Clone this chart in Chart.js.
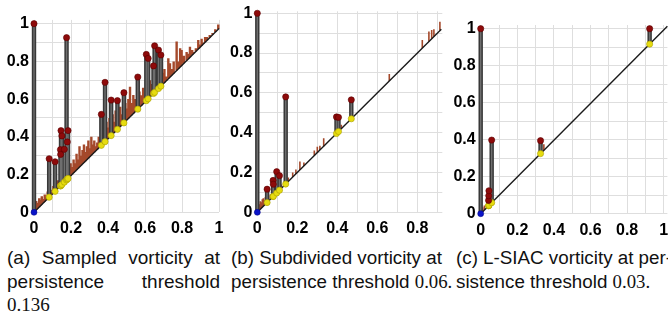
<!DOCTYPE html>
<html>
<head>
<meta charset="utf-8">
<script src="https://cdn.jsdelivr.net/npm/chart.js@4.4.1/dist/chart.umd.min.js"></script>
<style>
  body { margin: 0; width: 668px; height: 314px; overflow: hidden; background: #fff; position: relative;
         font-family: "Liberation Sans", Arial, sans-serif; }
  canvas { position: absolute; top: 0; }
  .cap { position: absolute; font-size: 19px; line-height: 23.5px; color: #111; white-space: nowrap; }
  .num { font-family: "Liberation Serif", "Times New Roman", serif; }
  .just { text-align: justify; text-align-last: justify; white-space: normal; }
</style>
</head>
<body>
<canvas id="chartA" width="225" height="240" style="left:0px"></canvas>
<canvas id="chartB" width="222" height="240" style="left:228px"></canvas>
<canvas id="chartC" width="220" height="240" style="left:452px"></canvas>

<div class="cap just" style="left:7px; top:246px; width:213px">(a) Sampled vorticity at</div>
<div class="cap just" style="left:7px; top:269.5px; width:213px">persistence threshold</div>
<div class="cap" style="left:7px; top:293px"><span class="num">0.136</span></div>

<div class="cap" style="left:231px; top:246px; font-size:18.8px">(b) Subdivided vorticity at<br>persistence threshold <span class="num">0.06.</span></div>
<div class="cap" style="left:456px; top:246px; font-size:18.8px">(c) L-SIAC vorticity at per-<br>sistence threshold <span class="num">0.03.</span></div>

<script>
"use strict";

// tick values (grid every 0.1, label every 0.2)
const ticksTo1 = [0, 0.1, 0.2, 0.3, 0.4, 0.5, 0.6, 0.7, 0.8, 0.9, 1];
const ticksTo09 = [0, 0.1, 0.2, 0.3, 0.4, 0.5, 0.6, 0.7, 0.8, 0.9];

// (a) sampled vorticity : birth / death pairs
const birthsA = [0, 0.082, 0.114, 0.143, 0.144, 0.146, 0.151, 0.164, 0.176, 0.180, 0.184,
                 0.364, 0.384, 0.417, 0.451, 0.486, 0.561, 0.607, 0.617, 0.646, 0.652, 0.673, 0.686];
const deathsA = [1.0, 0.284, 0.268, 0.332, 0.307, 0.433, 0.405, 0.334, 0.926, 0.373, 0.433,
                 0.519, 0.689, 0.595, 0.592, 0.634, 0.717, 0.837, 0.816, 0.776, 0.883, 0.860, 0.834];
const diagEndA = [1, 0.975];
// small brown features below threshold
const spikeXA = [0.005, 0.012, 0.02, 0.028, 0.035, 0.042, 0.05, 0.058, 0.066, 0.074, 0.09, 0.098, 0.105,
                 0.122, 0.13, 0.137, 0.155, 0.17, 0.19, 0.198, 0.206, 0.214, 0.222, 0.23, 0.238, 0.246,
                 0.254, 0.262, 0.27, 0.278, 0.286, 0.294, 0.302, 0.31, 0.318, 0.326, 0.334, 0.342, 0.35,
                 0.372, 0.392, 0.4, 0.408, 0.425, 0.433, 0.441, 0.458, 0.466, 0.474, 0.494, 0.502, 0.51,
                 0.519, 0.528, 0.537, 0.546, 0.57, 0.58, 0.59, 0.626, 0.636, 0.66, 0.695, 0.705, 0.715,
                 0.726, 0.735, 0.745, 0.755, 0.771, 0.78, 0.79, 0.798, 0.81, 0.825, 0.835, 0.843, 0.855,
                 0.865, 0.875, 0.888, 0.897, 0.906, 0.915, 0.925, 0.935, 0.95, 0.965, 0.98, 0.996];
const spikeTopA = [0.04, 0.06, 0.05, 0.075, 0.065, 0.085, 0.07, 0.095, 0.08, 0.11, 0.12, 0.105, 0.14,
                   0.15, 0.17, 0.16, 0.19, 0.21, 0.23, 0.26, 0.24, 0.28, 0.26, 0.31, 0.28, 0.35,
                   0.3, 0.33, 0.36, 0.32, 0.35, 0.38, 0.34, 0.4, 0.36, 0.38, 0.35, 0.37, 0.4,
                   0.44, 0.48, 0.45, 0.5, 0.52, 0.48, 0.54, 0.5, 0.56, 0.52, 0.58, 0.55, 0.6,
                   0.666, 0.58, 0.622, 0.6, 0.64, 0.62, 0.66, 0.7, 0.68, 0.72, 0.74, 0.76, 0.72,
                   0.817, 0.79, 0.76, 0.8, 0.905, 0.8, 0.87, 0.86, 0.83, 0.85, 0.84, 0.878, 0.86,
                   0.85, 0.87, 0.913, 0.89, 0.92, 0.9, 0.93, 0.93, 0.94, 0.95, 0.97, 0.995];

// (b) subdivided vorticity
const birthsB = [0, 0.049, 0.079, 0.080, 0.097, 0.111, 0.142, 0.396, 0.406, 0.470];
const deathsB = [1.0, 0.116, 0.160, 0.141, 0.204, 0.184, 0.580, 0.479, 0.477, 0.565];
const diagEndB = [0.92, 0.92];
const spikeXB = [0.01, 0.015, 0.02, 0.025, 0.03, 0.035, 0.04, 0.055, 0.065, 0.09, 0.12, 0.155, 0.177,
                 0.193, 0.213, 0.233, 0.285, 0.3, 0.313, 0.332, 0.42, 0.66, 0.825, 0.858, 0.872, 0.883, 0.913];
const spikeTopB = [0.04, 0.055, 0.05, 0.065, 0.07, 0.06, 0.075, 0.08, 0.09, 0.12, 0.14, 0.175, 0.2,
                   0.215, 0.255, 0.25, 0.31, 0.33, 0.335, 0.372, 0.44, 0.695, 0.866, 0.908, 0.916, 0.92, 0.958];

// (c) L-SIAC vorticity
const birthsC = [0, 0.043, 0.044, 0.045, 0.060, 0.327, 0.923];
const deathsC = [1.0, 0.072, 0.097, 0.124, 0.398, 0.395, 1.0];
const diagEndC = [1.02, 1.013];
const spikeXC = [0.01, 0.02, 0.345];
const spikeTopC = [0.035, 0.045, 0.375];

function segments(xs, lows, highs) {
  const pts = [];
  xs.forEach((x, i) => {
    pts.push({ x: x, y: lows[i] }, { x: x, y: highs[i] }, { x: x, y: null });
  });
  return pts;
}

function tickLabel(v) {
  if (Math.round(v * 10) % 2 !== 0) return '';
  if (v === 0) return '0';
  if (v === 1) return '1';
  return v.toFixed(1);
}

function makePanel(canvasId, p) {
  const slope = p.diag[1] / p.diag[0];
  const onDiag = x => x * slope;
  const births = p.births.slice(1);
  const deaths = p.deaths.slice(1);
  const sticks = segments(p.births, p.births.map(onDiag), p.deaths);
  const spikes = segments(p.spikeX, p.spikeX.map(onDiag), p.spikeTop);
  const canvas = document.getElementById(canvasId);
  const W = canvas.width, H = canvas.height;
  const tickFont = { family: "'Liberation Sans', Arial, sans-serif", size: 16, weight: 'bold' };

  return new Chart(canvas, {
    type: 'scatter',
    data: {
      datasets: [
        { data: [{ x: p.births[0], y: onDiag(p.births[0]) }], pointRadius: 3, pointBackgroundColor: '#0a14c8',
          pointBorderColor: '#000080', pointBorderWidth: 0.5, order: 0, clip: false },
        { data: [{ x: p.births[0], y: p.deaths[0] }].concat(births.map((b, i) => ({ x: b, y: deaths[i] }))),
          pointRadius: 3.1, pointBackgroundColor: '#8e0a0a', pointBorderColor: '#5a0000', pointBorderWidth: 0.6,
          order: 1, clip: false },
        { data: births.map(b => ({ x: b, y: onDiag(b) })), pointRadius: 3.1, pointBackgroundColor: '#e6dc10',
          pointBorderColor: '#a89c00', pointBorderWidth: 0.6, order: 2, clip: false },
        { data: sticks, showLine: true, borderColor: '#6e6e6e', borderWidth: 1.4, pointRadius: 0,
          order: 3, clip: false, borderCapStyle: 'butt' },
        { data: sticks, showLine: true, borderColor: '#383838', borderWidth: 4.4, pointRadius: 0,
          order: 4, clip: false, borderCapStyle: 'butt' },
        { data: [{ x: 0, y: 0 }, { x: p.diag[0], y: p.diag[1] }], showLine: true, borderColor: '#1a1a1a',
          borderWidth: 1.4, pointRadius: 0, order: 5, clip: false },
        { data: spikes, showLine: true, borderColor: '#a4482a', borderWidth: p.spikeWidth, pointRadius: 0,
          order: 6, clip: false, borderCapStyle: 'butt' }
      ]
    },
    options: {
      responsive: false,
      animation: false,
      events: [],
      layout: { padding: { left: 0, top: p.plotTop, right: W - (p.plotRight - p.left), bottom: 0 } },
      plugins: { legend: { display: false }, tooltip: { enabled: false } },
      scales: {
        x: {
          type: 'linear', min: 0, max: p.xMax,
          border: { display: false },
          grid: { color: '#dedede', lineWidth: 1, drawTicks: false },
          ticks: { font: tickFont, color: '#000', padding: 7, maxRotation: 0, autoSkip: false, callback: tickLabel },
          afterBuildTicks: s => { s.ticks = p.xTicks.map(v => ({ value: v })); },
          afterFit: s => { s.height = H - p.plotBottom; s.paddingLeft = 0; s.paddingRight = 0; }
        },
        y: {
          type: 'linear', min: 0, max: p.yMax,
          border: { display: false },
          grid: { color: '#dedede', lineWidth: 1, drawTicks: false },
          ticks: { font: tickFont, color: '#000', padding: 5, autoSkip: false, callback: tickLabel },
          afterBuildTicks: s => { s.ticks = p.yTicks.map(v => ({ value: v })); },
          afterFit: s => { s.width = p.plotLeft - p.left; s.paddingTop = 0; s.paddingBottom = 0; }
        }
      }
    }
  });
}

makePanel('chartA', {
  births: birthsA, deaths: deathsA, diag: diagEndA, spikeX: spikeXA, spikeTop: spikeTopA, spikeWidth: 2.4,
  left: 0, plotLeft: 34, plotRight: 219, plotTop: 19.9, plotBottom: 212.3,
  xMax: 1, yMax: 1.02, xTicks: ticksTo1, yTicks: ticksTo1
});

makePanel('chartB', {
  births: birthsB, deaths: deathsB, diag: diagEndB, spikeX: spikeXB, spikeTop: spikeTopB, spikeWidth: 1.6,
  left: 228, plotLeft: 257.3, plotRight: 442.3, plotTop: 11.3, plotBottom: 212.3,
  xMax: 0.925, yMax: 1.01, xTicks: ticksTo09, yTicks: ticksTo1
});

makePanel('chartC', {
  births: birthsC, deaths: deathsC, diag: diagEndC, spikeX: spikeXC, spikeTop: spikeTopC, spikeWidth: 1.6,
  left: 452, plotLeft: 480.7, plotRight: 668.7, plotTop: 25, plotBottom: 213.7,
  xMax: 1.02, yMax: 1.02, xTicks: ticksTo1, yTicks: ticksTo1
});
</script>
</body>
</html>
